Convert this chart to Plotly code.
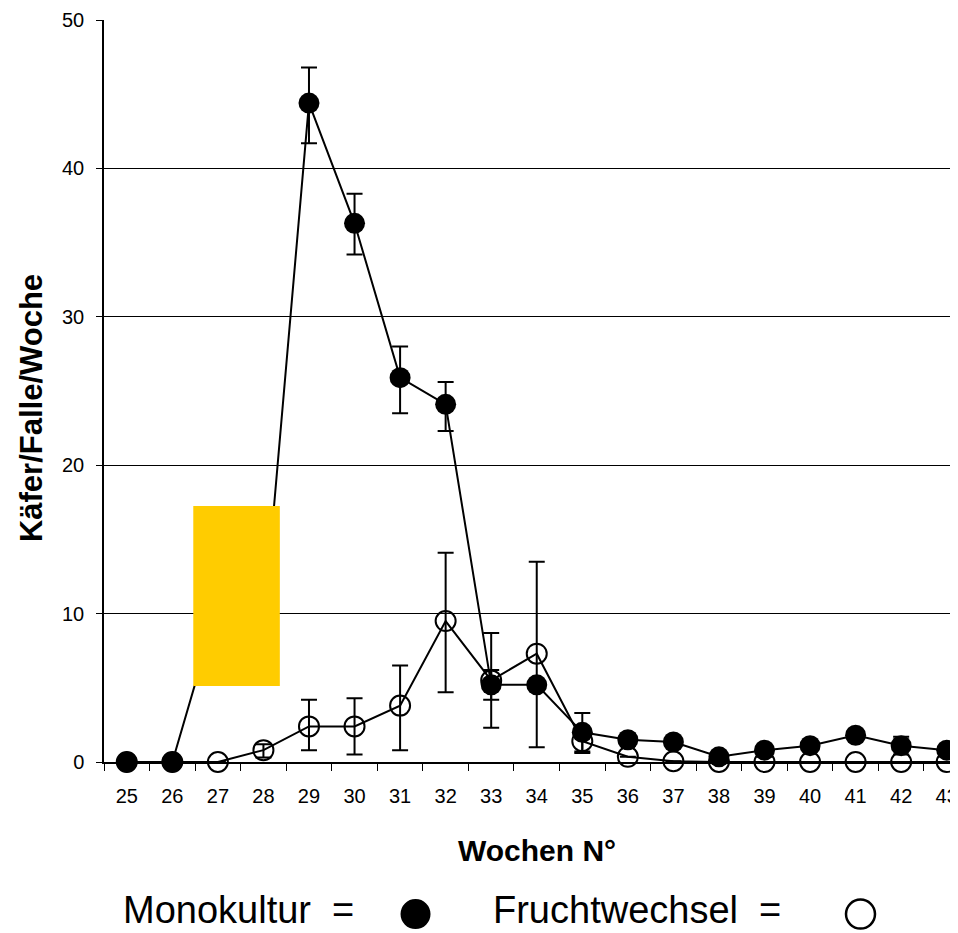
import plotly.graph_objects as go

weeks = [str(w) for w in range(25, 44)]

mono = [0, 0, 10.5, 9.0, 44.4, 36.3, 25.9, 24.1, 5.2, 5.2, 2.0, 1.5, 1.35, 0.35, 0.8, 1.1, 1.8, 1.1, 0.8]
mono_err_plus = [None, None, None, None, 2.4, 2.0, 2.1, 1.5, 1.0, None, 1.3, 0.4, None, None, None, None, None, 0.6, None]
mono_err_minus = [None, None, None, None, 2.7, 2.1, 2.4, 1.8, 1.0, None, 1.3, 0.4, None, None, None, None, None, 0.6, None]

frucht = [0, 0, 0, 0.8, 2.4, 2.4, 3.8, 9.5, 5.5, 7.3, 1.4, 0.35, 0.05, 0, 0, 0, 0, 0, 0]
frucht_err_plus = [None, None, None, 0.4, 1.8, 1.9, 2.7, 4.6, 3.2, 6.2, 0.8, None, None, None, None, None, None, None, None]
frucht_err_minus = [None, None, None, 0.5, 1.6, 1.9, 3.0, 4.8, 3.2, 6.3, 0.8, None, None, None, None, None, None, None, None]

y_ticks = [0, 10, 20, 30, 40, 50]

FONT = "Arial, Liberation Sans, sans-serif"

fig = go.Figure()

fig.add_trace(go.Scatter(
    x=weeks, y=frucht, mode="lines+markers", name="Fruchtwechsel",
    line=dict(color="black", width=2),
    marker=dict(symbol="circle-open", size=20, color="black", line=dict(width=2, color="black")),
    error_y=dict(type="data", symmetric=False, array=frucht_err_plus, arrayminus=frucht_err_minus,
                 color="black", thickness=2, width=8),
    cliponaxis=False, showlegend=False,
))

fig.add_trace(go.Scatter(
    x=weeks, y=mono, mode="lines+markers", name="Monokultur",
    line=dict(color="black", width=2),
    marker=dict(symbol="circle", size=21, color="black"),
    error_y=dict(type="data", symmetric=False, array=mono_err_plus, arrayminus=mono_err_minus,
                 color="black", thickness=2, width=8),
    cliponaxis=False, showlegend=False,
))

# yellow box
fig.add_shape(type="rect", xref="x", yref="y", x0=1.46, x1=3.36, y0=5.12, y1=17.25,
              fillcolor="#FFCC00", line=dict(width=0), layer="above")

# legend-like line under the chart
fig.add_annotation(text="Monokultur\u00a0\u00a0=", xref="paper", yref="paper", x=0.0199, y=-0.200,
                   xanchor="left", yanchor="middle", showarrow=False,
                   font=dict(family=FONT, size=38, color="black"))
fig.add_annotation(text="Fruchtwechsel\u00a0\u00a0=", xref="paper", yref="paper", x=0.4555, y=-0.200,
                   xanchor="left", yanchor="middle", showarrow=False,
                   font=dict(family=FONT, size=38, color="black"))
fig.add_shape(type="circle", xref="paper", yref="paper", xsizemode="pixel", ysizemode="pixel",
              xanchor=0.3665, yanchor=-0.205, x0=-15, x1=15, y0=-15, y1=15,
              fillcolor="black", line=dict(width=0, color="black"))
fig.add_shape(type="circle", xref="paper", yref="paper", xsizemode="pixel", ysizemode="pixel",
              xanchor=0.890, yanchor=-0.205, x0=-14.5, x1=14.5, y0=-14.5, y1=14.5,
              fillcolor="rgba(0,0,0,0)", line=dict(width=2.5, color="black"))

# axis titles
fig.add_annotation(text="<b>Käfer/Falle/Woche</b>", xref="paper", yref="paper", x=-0.0855, y=0.4774,
                   xanchor="center", yanchor="middle", textangle=-90, showarrow=False,
                   font=dict(family=FONT, size=31, color="black"))
fig.add_annotation(text="<b>Wochen N°</b>", xref="paper", yref="paper", x=0.509, y=-0.119,
                   xanchor="center", yanchor="middle", showarrow=False,
                   font=dict(family=FONT, size=30, color="black"))

fig.update_layout(
    width=950, height=925,
    margin=dict(l=96, r=0, t=12, b=170.5),
    paper_bgcolor="white", plot_bgcolor="white",
    font=dict(family=FONT, color="black"),
    xaxis=dict(
        type="category", range=[-0.5, 18.16], tickson="boundaries",
        ticks="outside", ticklen=7, tickcolor="black", tickwidth=1,
        showline=True, linecolor="black", linewidth=1.5,
        showgrid=False, zeroline=False,
        tickfont=dict(family=FONT, size=20, color="black"),
        ticklabelstandoff=15,
    ),
    yaxis=dict(
        range=[0, 50], tickvals=y_ticks,
        ticks="outside", ticklen=6, tickcolor="black", tickwidth=1,
        showline=True, linecolor="black", linewidth=1.5,
        showgrid=True, gridcolor="black", gridwidth=1, zeroline=False,
        tickfont=dict(family=FONT, size=20, color="black"),
        ticklabelstandoff=8,
    ),
)

fig.write_html("out.html")
